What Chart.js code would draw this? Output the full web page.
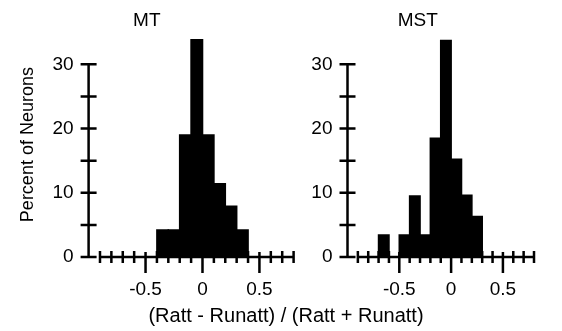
<!DOCTYPE html>
<html>
<head>
<meta charset="utf-8">
<style>
  body { margin: 0; background: #fff; }
  #wrap { position: relative; width: 562px; height: 331px; overflow: hidden; background: #fff; }
  canvas { position: absolute; top: 0; }
  #chartMT { left: 0; }
  #chartMST { left: 283px; }
  #xTitle {
    position: absolute; left: 0; top: 303px; width: 572px;
    text-align: center; font: 20px "Liberation Sans", Arial, sans-serif;
    line-height: 24px; color: #000; white-space: nowrap;
  }
</style>
<script src="https://cdn.jsdelivr.net/npm/chart.js@4.4.1/dist/chart.umd.min.js"></script>
</head>
<body>
<div id="wrap">
  <canvas id="chartMT" width="380" height="331"></canvas>
  <canvas id="chartMST" width="272" height="331"></canvas>
  <div id="xTitle">(Ratt - Runatt) / (Ratt + Runatt)</div>
</div>
<script>
// Centros de los bins y porcentajes
const binsMT = [-0.35, -0.25, -0.15, -0.05, 0.05, 0.15, 0.25, 0.35];
const percentMT = [4.2, 4.2, 19, 33.8, 19, 11.4, 7.9, 4.2];

const binsMST = [-0.65, -0.55, -0.45, -0.35, -0.25, -0.15, -0.05, 0.05, 0.15, 0.25];
const percentMST = [3.4, 0, 3.4, 9.5, 3.4, 18.5, 33.7, 15.2, 9.6, 6.3];

// Marcas de los ejes
const xTickValues = [-0.9, -0.8, -0.7, -0.6, -0.5, -0.4, -0.3, -0.2, -0.1, 0, 0.1, 0.2, 0.3, 0.4, 0.5, 0.6, 0.7, 0.8];
const xMajorTicks = [-0.5, 0, 0.5];
const xTickLabels = ["-0.5", "0", "0.5"];
const yTickValues = [0, 5, 10, 15, 20, 25, 30];
const yLabelValues = [0, 10, 20, 30];
const yTickLabels = ["0", "10", "20", "30"];

Chart.defaults.font.family = '"Liberation Sans", Arial, sans-serif';
Chart.defaults.font.size = 19;
Chart.defaults.color = "#000";

function buscar(lista, valor) {
    return lista.findIndex(v => Math.abs(v - valor) < 1e-6);
}

// Dibuja los ejes con marcas que cruzan la linea
const ejesPlugin = {
    id: "ejesCruzados",
    afterDatasetsDraw: (chart) => {
        const { ctx } = chart;
        const x = chart.scales.x;
        const y = chart.scales.y;
        const ax = chart.chartArea.left;
        const y0 = y.getPixelForValue(0);
        ctx.save();
        ctx.strokeStyle = "#000";
        ctx.lineWidth = 2.5;
        ctx.lineCap = "butt";
        ctx.beginPath();
        ctx.moveTo(ax, y0 + 1.2);
        ctx.lineTo(ax, y.getPixelForValue(30) - 1.2);
        yTickValues.forEach(v => {
            const py = y.getPixelForValue(v);
            ctx.moveTo(ax - 8, py);
            ctx.lineTo(ax + 8, py);
        });
        const xIni = x.getPixelForValue(xTickValues[0]);
        const xFin = x.getPixelForValue(xTickValues[xTickValues.length - 1]);
        ctx.moveTo(xIni - 1.2, y0);
        ctx.lineTo(xFin + 1.2, y0);
        xTickValues.forEach(v => {
            const px = x.getPixelForValue(v);
            if (buscar(xMajorTicks, v) >= 0) {
                ctx.moveTo(px, y0 - 5);
                ctx.lineTo(px, y0 + 16);
            } else {
                ctx.moveTo(px, y0 - 6);
                ctx.lineTo(px, y0 + 6);
            }
        });
        ctx.stroke();
        ctx.restore();
    }
};

function crearConfig(titulo, bins, valores, medidas) {
    const data = {
        datasets: [{
            data: bins.map((b, i) => ({ x: b, y: valores[i] })),
            backgroundColor: "#000",
            borderWidth: 0,
            inflateAmount: 0.8,
            barPercentage: 1,
            categoryPercentage: 1
        }]
    };
    return {
        type: "bar",
        data,
        options: {
            responsive: false,
            animation: false,
            devicePixelRatio: 1,
            layout: { padding: { left: 0, right: medidas.padRight, top: 0, bottom: 0 } },
            plugins: {
                legend: { display: false },
                tooltip: { enabled: false },
                title: {
                    display: true,
                    text: titulo,
                    font: { size: 19, weight: "normal" },
                    color: "#000",
                    padding: { top: 9, bottom: 0.4 }
                }
            },
            scales: {
                x: {
                    type: "linear",
                    min: -1.0,
                    max: 0.8,
                    offset: false,
                    grid: { display: false, drawTicks: false, offset: false },
                    border: { display: false },
                    ticks: {
                        stepSize: 0.1,
                        autoSkip: false,
                        maxRotation: 0,
                        padding: 21,
                        callback: (valor) => {
                            const i = buscar(xMajorTicks, valor);
                            return i >= 0 ? xTickLabels[i] : "";
                        }
                    },
                    afterFit: (scale) => { scale.height = 74; }
                },
                y: {
                    min: 0,
                    max: 35,
                    grid: { display: false, drawTicks: false },
                    border: { display: false },
                    title: {
                        display: medidas.yTitulo,
                        text: "Percent of Neurons",
                        font: { size: 18 },
                        padding: { top: 17, bottom: 0 }
                    },
                    ticks: {
                        stepSize: 5,
                        autoSkip: false,
                        padding: 15,
                        callback: (valor) => {
                            const i = buscar(yLabelValues, valor);
                            return i >= 0 ? yTickLabels[i] : "";
                        }
                    },
                    afterFit: (scale) => { scale.width = medidas.anchoY; }
                }
            }
        },
        plugins: [ejesPlugin]
    };
}

new Chart(document.querySelector("#chartMT"),
    crearConfig("MT", binsMT, percentMT, { padRight: 86.4, anchoY: 88.6, yTitulo: true }));
new Chart(document.querySelector("#chartMST"),
    crearConfig("MST", binsMST, percentMST, { padRight: 2.3, anchoY: 64.5, yTitulo: false }));
</script>
</body>
</html>
